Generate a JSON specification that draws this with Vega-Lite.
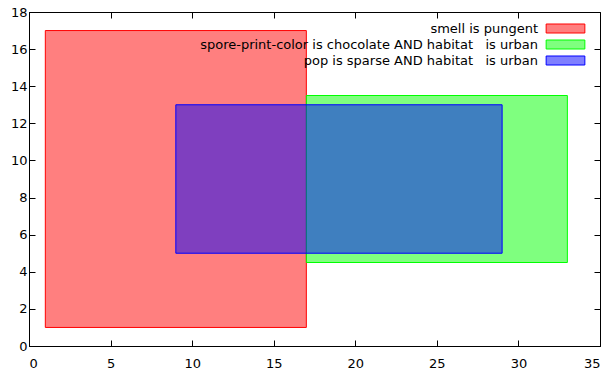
{
  "$schema": "https://vega.github.io/schema/vega-lite/v6.json",
  "width": 571,
  "height": 334,
  "autosize": {"type": "none"},
  "padding": {"left": 29, "top": 12, "right": 15, "bottom": 29},
  "background": "white",
  "config": {
    "font": "DejaVu Sans",
    "view": {"stroke": "black", "strokeWidth": 1},
    "axis": {
      "grid": false,
      "title": null,
      "domainColor": "black",
      "domainWidth": 1,
      "tickColor": "black",
      "tickWidth": 1,
      "tickSize": -6,
      "labelFont": "DejaVu Sans",
      "labelFontSize": 13,
      "labelColor": "black",
      "labelPadding": 8
    }
  },
  "data": {
    "values": [
      {"label": "smell is pungent", "x": 1, "x2": 17, "y": 1, "y2": 17},
      {"label": "spore-print-color is chocolate AND habitat\u00a0\u00a0 is urban", "x": 17, "x2": 33, "y": 4.5, "y2": 13.5},
      {"label": "pop is sparse AND habitat\u00a0\u00a0 is urban", "x": 9, "x2": 29, "y": 5, "y2": 13}
    ]
  },
  "layer": [
    {
      "mark": {"type": "rect", "fillOpacity": 0.5, "strokeWidth": 1},
      "encoding": {
        "x": {"field": "x", "type": "quantitative", "scale": {"domain": [0, 35], "nice": false, "zero": false}, "axis": {"orient": "bottom", "labelPadding": 17, "values": [0, 5, 10, 15, 20, 25, 30, 35]}},
        "x2": {"field": "x2"},
        "y": {"field": "y", "type": "quantitative", "scale": {"domain": [0, 18], "nice": false, "zero": false}, "axis": {"orient": "left", "values": [0, 2, 4, 6, 8, 10, 12, 14, 16, 18]}},
        "y2": {"field": "y2"},
        "fill": {
          "field": "label", "type": "nominal",
          "scale": {"domain": ["smell is pungent", "spore-print-color is chocolate AND habitat\u00a0\u00a0 is urban", "pop is sparse AND habitat\u00a0\u00a0 is urban"], "range": ["#ff0000", "#00ff00", "#0000ff"]},
          "legend": {
            "title": null,
            "orient": "none",
            "legendX": 530,
            "legendY": 10,
            "symbolType": "M-4.3,-1H4.3V1H-4.3Z",
            "symbolSize": 81,
            "symbolStrokeWidth": 1,
            "labelAlign": "right",
            "labelOffset": -34,
            "labelFont": "DejaVu Sans",
            "labelFontSize": 13,
            "labelColor": "black",
            "labelLimit": 0,
            "rowPadding": 2,
            "encode": {"symbols": {"update": {"fillOpacity": {"value": 0.5}, "strokeOpacity": {"value": 1}}}}
          }
        },
        "stroke": {
          "field": "label", "type": "nominal",
          "scale": {"domain": ["smell is pungent", "spore-print-color is chocolate AND habitat\u00a0\u00a0 is urban", "pop is sparse AND habitat\u00a0\u00a0 is urban"], "range": ["#ff0000", "#00ff00", "#0000ff"]},
          "legend": null
        }
      }
    },
    {
      "mark": {"type": "rect", "opacity": 0},
      "encoding": {
        "x": {"field": "x", "type": "quantitative", "axis": {"orient": "top", "labels": false, "domain": false, "values": [0, 5, 10, 15, 20, 25, 30, 35]}},
        "x2": {"field": "x2"},
        "y": {"field": "y", "type": "quantitative", "axis": {"orient": "right", "labels": false, "domain": false, "values": [0, 2, 4, 6, 8, 10, 12, 14, 16, 18]}},
        "y2": {"field": "y2"}
      }
    }
  ]
}
